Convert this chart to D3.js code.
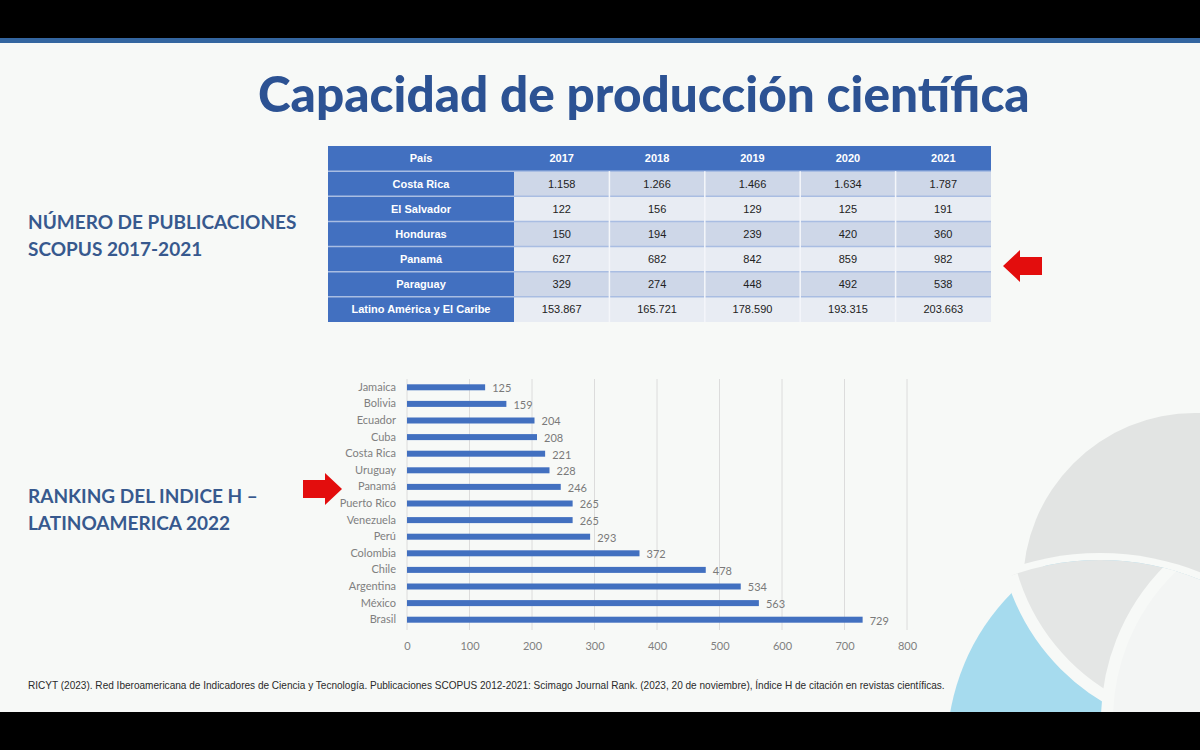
<!DOCTYPE html>
<html>
<head>
<meta charset="utf-8">
<script src="https://cdn.jsdelivr.net/npm/d3@7"></script>
<style>
  body { margin: 0; background: #000; }
  svg { display: block; }
</style>
</head>
<body>
<div id="slide"></div>
<script>
// Tabla de publicaciones SCOPUS
const countries = ["Costa Rica", "El Salvador", "Honduras", "Panamá", "Paraguay", "Latino América y El Caribe"];
const years = ["2017", "2018", "2019", "2020", "2021"];
const publications = [
  [1158, 1266, 1466, 1634, 1787],
  [122, 156, 129, 125, 191],
  [150, 194, 239, 420, 360],
  [627, 682, 842, 859, 982],
  [329, 274, 448, 492, 538],
  [153867, 165721, 178590, 193315, 203663]
];

// Ranking del indice H 2022
const rankCountries = ["Jamaica", "Bolivia", "Ecuador", "Cuba", "Costa Rica", "Uruguay", "Panamá",
  "Puerto Rico", "Venezuela", "Perú", "Colombia", "Chile", "Argentina", "México", "Brasil"];
const hIndex = [125, 159, 204, 208, 221, 228, 246, 265, 265, 293, 372, 478, 534, 563, 729];
const xTicks = [0, 100, 200, 300, 400, 500, 600, 700, 800];

const W = 1200, H = 750;
const blue = "#4270c0";
const titleBlue = "#2c5293";
const labelBlue = "#37598e";
const bg = "#f7f9f7";

const svg = d3.select("#slide").append("svg").attr("width", W).attr("height", H);

// black bands + slide
svg.append("rect").attr("width", W).attr("height", H).attr("fill", "#000");
svg.append("rect").attr("x", 0).attr("y", 43).attr("width", W).attr("height", 669).attr("fill", bg);
svg.append("rect").attr("x", 0).attr("y", 38).attr("width", W).attr("height", 5).attr("fill", "#3466a0");

// decoracion circulos abajo a la derecha
const defs = svg.append("defs");
defs.append("clipPath").attr("id", "slideClip")
  .append("rect").attr("x", 0).attr("y", 43).attr("width", W).attr("height", 669);
defs.append("clipPath").attr("id", "lowClip")
  .append("circle").attr("cx", 1100).attr("cy", 822).attr("r", 262);

const deco = svg.append("g").attr("clip-path", "url(#slideClip)");
deco.append("circle").attr("cx", 1195).attr("cy", 585).attr("r", 172).attr("fill", "#e2e4e3");
deco.append("circle").attr("cx", 1100).attr("cy", 822).attr("r", 269).attr("fill", bg);
const low = deco.append("g").attr("clip-path", "url(#lowClip)");
low.append("circle").attr("cx", 1170).attr("cy", 750).attr("r", 223).attr("fill", "#a6dbee");
low.append("circle").attr("cx", 1215).attr("cy", 515).attr("r", 212)
  .attr("fill", "#e4e6e5").attr("stroke", bg).attr("stroke-width", 12);
low.append("circle").attr("cx", 1320).attr("cy", 720).attr("r", 213)
  .attr("fill", "#f3f5f4").attr("stroke", bg).attr("stroke-width", 12);

// titulo
function fitText(sel, width) {
  const w = sel.node().getComputedTextLength();
  const fs = parseFloat(sel.attr("font-size"));
  sel.attr("font-size", fs * width / w);
}
const title = svg.append("text")
  .attr("x", 258).attr("y", 112)
  .attr("font-family", "Lato, 'Open Sans', sans-serif")
  .attr("font-weight", 900)
  .attr("font-size", 44)
  .attr("fill", titleBlue)
  .text("Capacidad de producción científica");
fitText(title, 772);

// etiquetas laterales
const sideLabels = [
  { lines: ["NÚMERO DE PUBLICACIONES", "SCOPUS 2017-2021"], y: 229 },
  { lines: ["RANKING DEL INDICE H –", "LATINOAMERICA 2022"], y: 503 }
];
sideLabels.forEach(lab => {
  lab.lines.forEach((line, i) => {
    svg.append("text")
      .attr("x", 28).attr("y", lab.y + i * 27)
      .attr("font-family", "Lato, sans-serif")
      .attr("font-weight", 700)
      .attr("font-size", 19)
      .attr("fill", labelBlue)
      .text(line);
  });
});

// ---- tabla ----
const fmt = d3.formatLocale({ decimal: ",", thousands: ".", grouping: [3], currency: ["", ""] }).format(",d");
const rowScale = d3.scaleBand().domain(["head", ...countries]).range([146, 322]);
const colScale = d3.scaleBand().domain(years).range([514, 991]);
const firstX = 328, firstW = 514 - 328;

const table = svg.append("g").attr("font-family", "'Liberation Sans', Arial, sans-serif").attr("font-size", 11);

table.append("rect").attr("x", firstX).attr("y", 146).attr("width", 991 - firstX).attr("height", 322 - 146)
  .attr("fill", "#e8ecf3");

// header
table.append("rect").attr("x", firstX).attr("y", rowScale("head"))
  .attr("width", 991 - firstX).attr("height", rowScale.bandwidth()).attr("fill", blue);
table.append("text").attr("x", firstX + firstW / 2).attr("y", rowScale("head") + rowScale.bandwidth() / 2)
  .attr("dy", "0.35em").attr("text-anchor", "middle").attr("fill", "#fff").attr("font-weight", 700)
  .text("País");
table.selectAll(".yearHead").data(years).join("text")
  .attr("class", "yearHead")
  .attr("x", d => colScale(d) + colScale.bandwidth() / 2)
  .attr("y", rowScale("head") + rowScale.bandwidth() / 2)
  .attr("dy", "0.35em").attr("text-anchor", "middle").attr("fill", "#fff").attr("font-weight", 700)
  .text(d => d);

const rows = table.selectAll(".row").data(countries).join("g").attr("class", "row");
rows.append("rect")
  .attr("x", firstX).attr("y", d => rowScale(d))
  .attr("width", firstW).attr("height", rowScale.bandwidth())
  .attr("fill", blue);
rows.append("text")
  .attr("x", firstX + firstW / 2).attr("y", d => rowScale(d) + rowScale.bandwidth() / 2)
  .attr("dy", "0.35em").attr("text-anchor", "middle").attr("fill", "#fff").attr("font-weight", 700)
  .text(d => d);
rows.each(function (c, i) {
  const g = d3.select(this);
  g.selectAll(".cell").data(publications[i]).join("rect")
    .attr("class", "cell")
    .attr("x", (d, j) => colScale(years[j]))
    .attr("y", rowScale(c))
    .attr("width", colScale.bandwidth())
    .attr("height", rowScale.bandwidth())
    .attr("fill", i % 2 === 0 ? "#ced7e8" : "#e8ecf3");
  g.selectAll(".val").data(publications[i]).join("text")
    .attr("class", "val")
    .attr("x", (d, j) => colScale(years[j]) + colScale.bandwidth() / 2)
    .attr("y", rowScale(c) + rowScale.bandwidth() / 2)
    .attr("dy", "0.35em").attr("text-anchor", "middle").attr("fill", "#222")
    .text(d => fmt(d));
});
// lineas separadoras
table.selectAll(".hsep").data(countries).join("line")
  .attr("x1", firstX).attr("x2", 991)
  .attr("y1", d => rowScale(d)).attr("y2", d => rowScale(d))
  .attr("stroke", "#a9bde2").attr("stroke-width", 1.5);
table.selectAll(".vsep").data(years.slice(1)).join("line")
  .attr("x1", d => colScale(d)).attr("x2", d => colScale(d))
  .attr("y1", rowScale(countries[0])).attr("y2", 322)
  .attr("stroke", "#f4f6fa").attr("stroke-width", 1.5);

// flechas rojas
function arrow(tipX, tipY, dir) {
  // dir = -1 points left, 1 points right
  const pts = [
    [0, 0], [17, -16], [17, -9], [39, -9], [39, 9], [17, 9], [17, 16]
  ].map(([a, b]) => [tipX - dir * a, tipY + b]);
  svg.append("path").attr("d", d3.line()(pts) + "Z").attr("fill", "#e30d0d");
}
arrow(1003, 266, -1);
arrow(342, 489, 1);

// ---- grafico de barras ----
const x = d3.scaleLinear().domain([0, 800]).range([407, 907]);
const y = d3.scaleBand().domain(rankCountries).range([379, 628]);
const chart = svg.append("g").attr("font-family", "Lato, 'Open Sans', sans-serif");

chart.selectAll(".grid").data(xTicks).join("line")
  .attr("class", "grid")
  .attr("x1", d => x(d)).attr("x2", d => x(d))
  .attr("y1", 379).attr("y2", 630)
  .attr("stroke", "#dcdcdc").attr("stroke-width", 1);

const xAxis = chart.append("g")
  .attr("transform", "translate(0,639)")
  .call(d3.axisBottom(x).tickValues(xTicks).tickSize(0).tickPadding(3));
xAxis.select(".domain").remove();
xAxis.selectAll("text").attr("font-size", 11).attr("fill", "#808080").attr("font-family", "Lato, sans-serif");

const yAxis = chart.append("g")
  .attr("transform", "translate(396,0)")
  .call(d3.axisLeft(y).tickSize(0).tickPadding(0));
yAxis.select(".domain").remove();
yAxis.selectAll("text").attr("font-size", 11).attr("fill", "#808080").attr("font-family", "Lato, sans-serif");

const barH = 6;
chart.selectAll(".bar").data(rankCountries).join("rect")
  .attr("class", "bar")
  .attr("x", x(0))
  .attr("y", d => y(d) + y.bandwidth() / 2 - barH / 2)
  .attr("width", (d, i) => x(hIndex[i]) - x(0))
  .attr("height", barH)
  .attr("fill", blue);

chart.selectAll(".lbl").data(rankCountries).join("text")
  .attr("class", "lbl")
  .attr("x", (d, i) => x(hIndex[i]) + 7)
  .attr("y", d => y(d) + y.bandwidth() / 2 + 1)
  .attr("dy", "0.35em")
  .attr("font-size", 11)
  .attr("fill", "#7a7a7a")
  .text((d, i) => hIndex[i]);

// fuente
const source = svg.append("text")
  .attr("x", 28).attr("y", 689)
  .attr("font-family", "'Liberation Sans', Arial, sans-serif")
  .attr("font-size", 9)
  .attr("fill", "#2a2a2a")
  .text("RICYT (2023). Red Iberoamericana de Indicadores de Ciencia y Tecnología. Publicaciones SCOPUS 2012-2021: Scimago Journal Rank. (2023, 20 de noviembre), Índice H de citación en revistas científicas.");
fitText(source, 917);
</script>
</body>
</html>
